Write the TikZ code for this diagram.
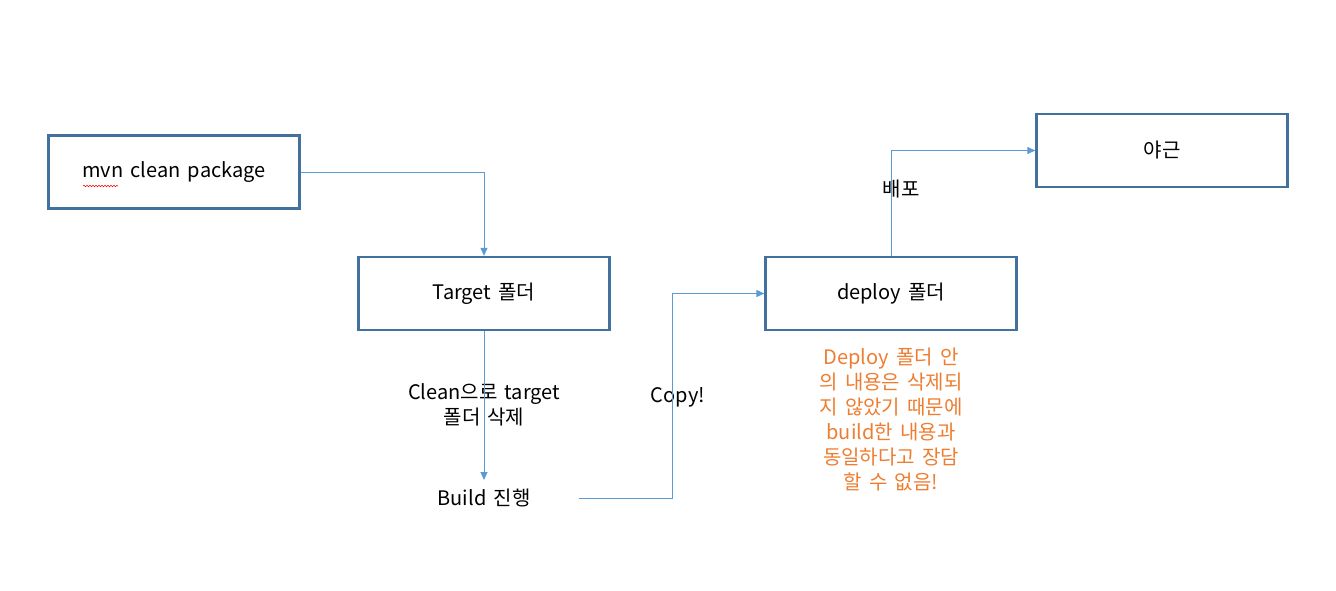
\documentclass[tikz,border=0pt]{standalone}
\usepackage{fontspec}
\setmainfont{Noto Sans CJK KR}[WordSpace=1.6]
\usetikzlibrary{arrows.meta,decorations.pathmorphing}
\definecolor{boxblue}{HTML}{41719C}
\definecolor{linkblue}{HTML}{5B9BD5}
\definecolor{noteorange}{HTML}{ED7D31}
\newcommand{\lowertext}[1]{\raisebox{-2pt}{#1}}
\begin{document}
\begin{tikzpicture}[x=1pt,y=-1pt,
  box/.style={draw=boxblue,line width=2.3pt,minimum width=251pt,minimum height=73pt,inner sep=0pt,font=\fontsize{20}{22}\selectfont},
  lbl/.style={font=\fontsize{20}{25}\selectfont,align=center,inner sep=0pt},
  link/.style={draw=linkblue,line width=1pt,-{Triangle[length=8pt,width=7pt]}}]
\useasboundingbox (0,0) rectangle (1336,591);
\node[box] (mvn) at (174,172) {\lowertext{mvn clean package}};
\node[box] (target) at (484,293.5) {\lowertext{Target 폴더}};
\node[box] (deploy) at (891,293.5) {\lowertext{deploy 폴더}};
\node[box] (night) at (1162,150.5) {\lowertext{야근}};
\node[lbl] (build) at (484,498) {Build 진행};
\node[lbl] (clean) at (484,405) {Clean으로 target\\폴더 삭제};
\node[lbl] (copy) at (678,397) {Copy!};
\node[lbl] (deploylbl) at (901,189) {배포};
\node[lbl,text=noteorange] (note) at (891,420) {Deploy 폴더 안\\의 내용은 삭제되\\지 않았기 때문에\\build한 내용과\\동일하다고 장담\\할 수 없음!};
\coordinate (buildR) at (579,498);
\coordinate (buildTip) at (484,480);
\draw[link] (mvn.east) -| (target.north);
\draw[link] (target.south) -- (buildTip);
\draw[link] (buildR) -| (672,293.5) -- (deploy.west);
\draw[link] (deploy.north) |- (night.west);
\draw[red,line width=0.5pt,decorate,decoration={snake,amplitude=0.8pt,segment length=3pt}] (83,186) -- (118,186);
\end{tikzpicture}
\end{document}
